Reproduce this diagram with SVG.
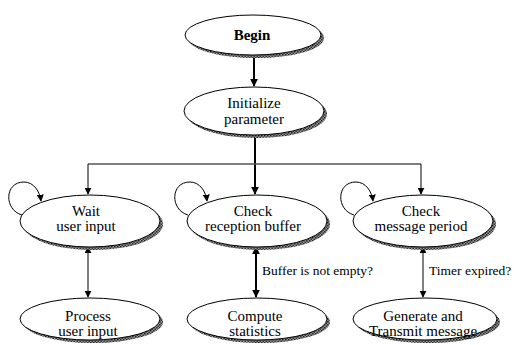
<svg xmlns="http://www.w3.org/2000/svg" width="517" height="345" viewBox="0 0 517 345" font-family="'Liberation Serif', 'DejaVu Serif', serif">
<defs>
<pattern id="hatch" width="3" height="3" patternUnits="userSpaceOnUse">
<rect width="3" height="3" fill="#9a9a9a"/>
<rect width="1.5" height="1.5" fill="#222"/>
<rect x="1.5" y="1.5" width="1.5" height="1.5" fill="#333"/>
</pattern>
<marker id="ah" viewBox="0 0 10 10" refX="9" refY="5" markerWidth="7" markerHeight="7" markerUnits="userSpaceOnUse" orient="auto-start-reverse">
<path d="M0,0 L10,5 L0,10 Z" fill="#000"/>
</marker>
<marker id="ahb" viewBox="0 0 10 10" refX="9" refY="5" markerWidth="8" markerHeight="8" markerUnits="userSpaceOnUse" orient="auto-start-reverse">
<path d="M0,0 L10,5 L0,10 Z" fill="#000"/>
</marker>
</defs>
<style>
.sh{fill:url(#hatch);stroke:none}
.el{fill:#fff;stroke:#000;stroke-width:1}
.t{font-family:'Liberation Serif','DejaVu Serif',serif;font-size:15px;fill:#000;text-anchor:middle}
.lb{font-family:'Liberation Serif','DejaVu Serif',serif;font-size:13.5px;fill:#000}
.c{fill:none;stroke:#000;stroke-width:1}
.cb{fill:none;stroke:#000;stroke-width:2}
.cg{fill:none;stroke:#555;stroke-width:1.5}
</style>
<rect width="517" height="345" fill="#fff"/>
<g id="connectors">
<line class="cb" x1="254" y1="55" x2="254" y2="86" marker-end="url(#ahb)"/>
<line class="cb" x1="255" y1="135" x2="255" y2="194" marker-end="url(#ahb)"/>
<line class="cg" x1="88" y1="164" x2="421" y2="164"/>
<line class="c" x1="88" y1="164" x2="88" y2="194" marker-end="url(#ah)"/>
<line class="c" x1="421" y1="164" x2="421" y2="194" marker-end="url(#ah)"/>
<line class="c" x1="88" y1="247" x2="88" y2="297" marker-start="url(#ah)" marker-end="url(#ah)"/>
<line class="cb" x1="256" y1="247" x2="256" y2="297" marker-start="url(#ahb)" marker-end="url(#ahb)"/>
<line class="c" x1="423" y1="247" x2="423" y2="297" marker-start="url(#ah)" marker-end="url(#ah)"/>
<path class="c" d="M22,215 C4,210 4,182 24,182 C34,182 40,192 41,201" marker-end="url(#ah)"/>
<path class="c" d="M188,215 C170,210 170,182 190,182 C200,182 206,192 207,201" marker-end="url(#ah)"/>
<path class="c" d="M354,215 C336,210 336,182 356,182 C366,182 372,192 373,201" marker-end="url(#ah)"/>
<text class="lb" x="262" y="275">Buffer is not empty?</text>
<text class="lb" x="429" y="275">Timer expired?</text>
</g>
<g id="begin">
<ellipse class="sh" cx="256" cy="38" rx="68" ry="20"/>
<ellipse class="el" cx="253" cy="35" rx="68" ry="20"/>
<text class="t" x="252" y="40" font-weight="bold">Begin</text>
</g>
<g id="init">
<ellipse class="sh" cx="257" cy="114" rx="70" ry="24"/>
<ellipse class="el" cx="254" cy="111" rx="70" ry="24"/>
<text class="t" x="254" y="108">Initialize</text>
<text class="t" x="254" y="124">parameter</text>
</g>
<g id="wait">
<ellipse class="sh" cx="93" cy="224" rx="70" ry="26"/>
<ellipse class="el" cx="90" cy="221" rx="70" ry="26"/>
<text class="t" x="86" y="216">Wait</text>
<text class="t" x="86" y="231">user input</text>
</g>
<g id="check-rx">
<ellipse class="sh" cx="260" cy="224" rx="70" ry="26"/>
<ellipse class="el" cx="257" cy="221" rx="70" ry="26"/>
<text class="t" x="253" y="216">Check</text>
<text class="t" x="253" y="231">reception buffer</text>
</g>
<g id="check-msg">
<ellipse class="sh" cx="426" cy="224" rx="70" ry="26"/>
<ellipse class="el" cx="423" cy="221" rx="70" ry="26"/>
<text class="t" x="421" y="216">Check</text>
<text class="t" x="421" y="231">message period</text>
</g>
<g id="process">
<ellipse class="sh" cx="93" cy="322" rx="70" ry="21"/>
<ellipse class="el" cx="90" cy="319" rx="70" ry="21"/>
<text class="t" x="88" y="321">Process</text>
<text class="t" x="88" y="336">user input</text>
</g>
<g id="compute">
<ellipse class="sh" cx="260" cy="322" rx="70" ry="21"/>
<ellipse class="el" cx="257" cy="319" rx="70" ry="21"/>
<text class="t" x="255" y="321">Compute</text>
<text class="t" x="255" y="336">statistics</text>
</g>
<g id="generate">
<ellipse class="sh" cx="428" cy="322" rx="72" ry="21"/>
<ellipse class="el" cx="425" cy="319" rx="72" ry="21"/>
<text class="t" x="423" y="321">Generate and</text>
<text class="t" x="423" y="336">Transmit message</text>
</g>
</svg>
